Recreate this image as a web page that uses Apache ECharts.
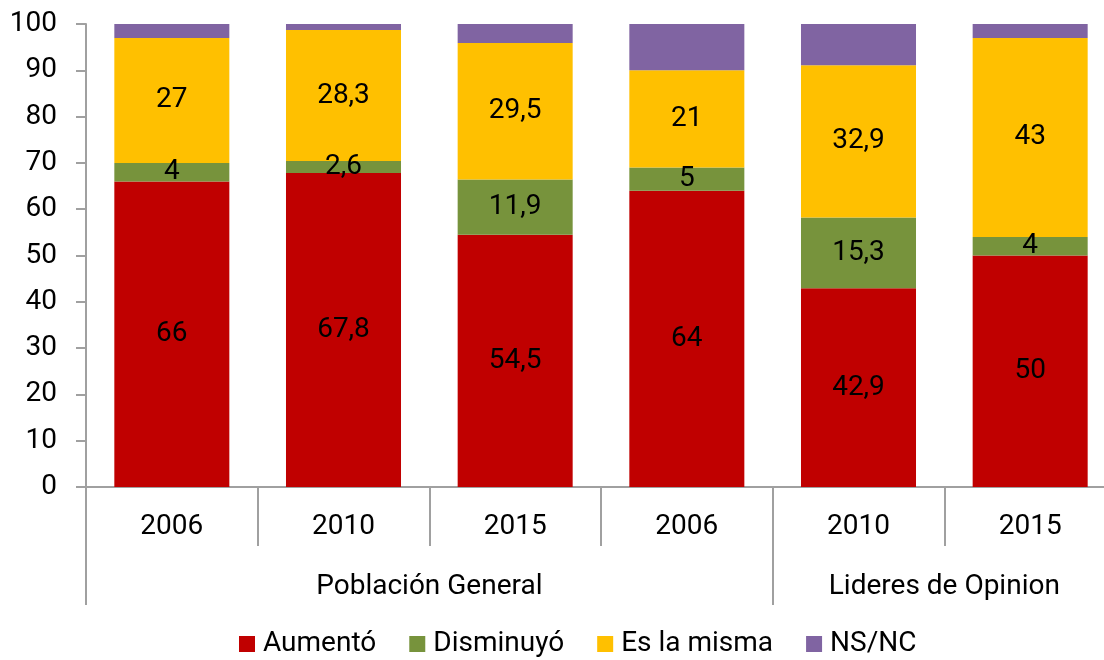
<!DOCTYPE html>
<html lang="es">
<head>
    <meta charset="UTF-8">
    <title>Percepción</title>
    <style>
        body { margin: 0; background: #fff; }
        #main { width: 1104px; height: 660px; }
    </style>
</head>
<body>
    <div id="main"></div>
    <script src="https://cdn.jsdelivr.net/npm/echarts@6/dist/echarts.min.js"></script>
    <script>
        var years = ['2006', '2010', '2015', '2006', '2010', '2015'];
        var groups = ['Población General', 'Lideres de Opinion'];
        var groupCenters = [2, 5];     // posición en el eje de grupos (0-6)
        var groupBounds = [0, 4, 6];
        var aumento = [66, 67.8, 54.5, 64, 42.9, 50];
        var disminuyo = [4, 2.6, 11.9, 5, 15.3, 4];
        var esLaMisma = [27, 28.3, 29.5, 21, 32.9, 43];
        var nsnc = [3, 1.3, 4.1, 10, 8.9, 3];
        var yTicks = [0, 100, 10]; // min, max, intervalo

        var font = 'Roboto';
        var fs = 28;
        var axisGray = '#a0a0a0';

        function fmt(v) {
            return String(v).replace('.', ',');
        }

        function barSeries(name, data, color, showLabel) {
            return {
                name: name,
                type: 'bar',
                stack: 'total',
                barCategoryGap: '33%',
                data: data,
                itemStyle: { color: color },
                label: {
                    show: showLabel,
                    position: 'inside',
                    color: '#000',
                    fontFamily: font,
                    fontSize: fs,
                    formatter: function (p) { return fmt(p.value); }
                }
            };
        }

        var myChart = echarts.init(document.getElementById('main'));
        var option = {
            animation: false,
            textStyle: { fontFamily: font },
            grid: { left: 86, top: 24, width: 1030, bottom: 173, outerBoundsMode: 'none' },
            legend: {
                top: 625,
                left: 234,
                itemWidth: 16,
                itemHeight: 16,
                itemGap: 33,
                icon: 'rect',
                textStyle: { fontFamily: font, fontSize: fs, color: '#000', padding: [0, 0, 0, 3] },
                data: ['Aumentó', 'Disminuyó', 'Es la misma', 'NS/NC']
            },
            xAxis: [
                {
                    type: 'category',
                    data: years,
                    axisLine: { lineStyle: { color: axisGray, width: 2 } },
                    axisTick: { show: true, length: 59, lineStyle: { color: axisGray, width: 2 } },
                    axisLabel: { color: '#000', fontSize: fs, fontFamily: font, margin: 26 }
                },
                {
                    type: 'value',
                    position: 'bottom',
                    min: 0,
                    max: 6,
                    axisLine: { show: false },
                    splitLine: { show: false },
                    axisTick: {
                        show: true,
                        customValues: groupBounds,
                        length: 118,
                        lineStyle: { color: axisGray, width: 2 }
                    },
                    axisLabel: {
                        customValues: groupCenters,
                        color: '#000',
                        fontSize: fs,
                        fontFamily: font,
                        margin: 86,
                        formatter: function (v) {
                            return groups[groupCenters.indexOf(v)] || '';
                        }
                    }
                }
            ],
            yAxis: {
                type: 'value',
                min: yTicks[0],
                max: yTicks[1],
                interval: yTicks[2],
                axisLine: { show: true, lineStyle: { color: axisGray, width: 2 } },
                axisTick: { show: true, length: 10, lineStyle: { color: axisGray, width: 2 } },
                splitLine: { show: false },
                axisLabel: { color: '#000', fontSize: fs, fontFamily: font, margin: 29 }
            },
            series: [
                barSeries('Aumentó', aumento, '#c00000', true),
                barSeries('Disminuyó', disminuyo, '#77933c', true),
                barSeries('Es la misma', esLaMisma, '#ffc000', true),
                barSeries('NS/NC', nsnc, '#8064a2', false)
            ]
        };
        myChart.setOption(option);
    </script>
</body>
</html>
